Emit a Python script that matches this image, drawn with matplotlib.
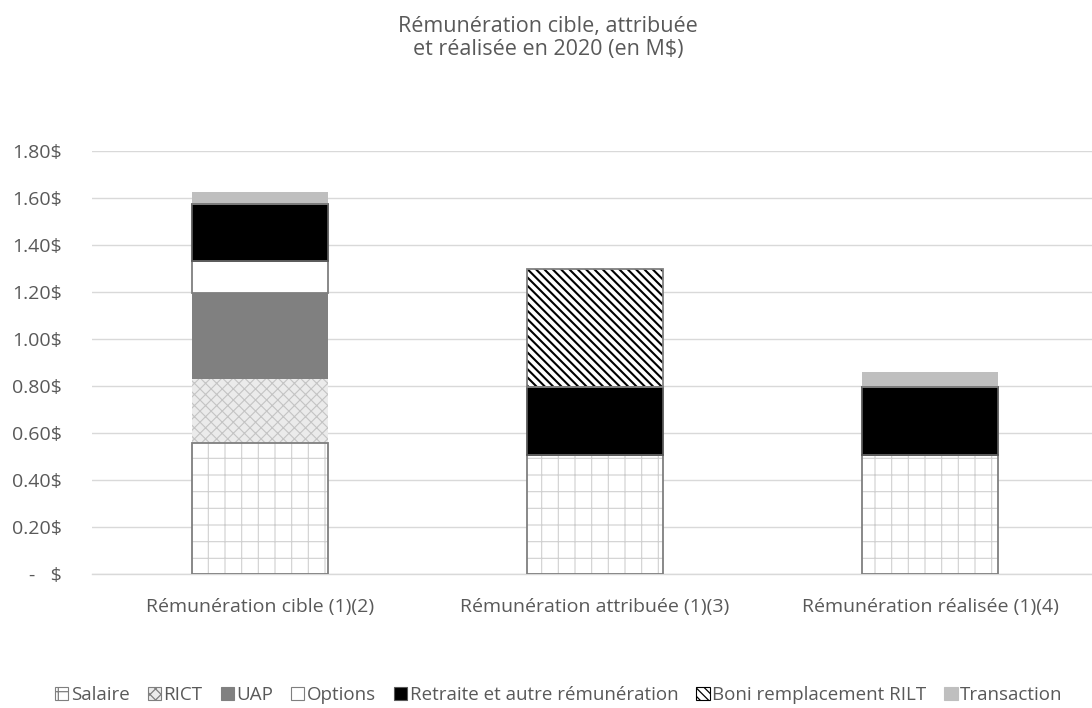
import matplotlib
matplotlib.use("Agg")
import matplotlib.pyplot as plt
from matplotlib.patches import Patch
import numpy as np

plt.rcParams['font.family'] = ['Open Sans', 'DejaVu Sans']
plt.rcParams['hatch.linewidth'] = 0.9

categories = ["Rémunération cible (1)(2)", "Rémunération attribuée (1)(3)", "Rémunération réalisée (1)(4)"]
series_names = ["Salaire", "RICT", "UAP", "Options", "Retraite et autre rémunération",
                "Boni remplacement RILT", "Transaction"]
salaire = [0.557, 0.506, 0.506]
rict = [0.273, 0.0, 0.0]
uap = [0.366, 0.0, 0.0]
options = [0.136, 0.0, 0.0]
retraite = [0.242, 0.290, 0.290]
boni = [0.0, 0.502, 0.0]
transaction = [0.052, 0.0, 0.064]
yticks = [0, 0.2, 0.4, 0.6, 0.8, 1.0, 1.2, 1.4, 1.6, 1.8]
ytick_labels = ["-   $", "0.20$", "0.40$", "0.60$", "0.80$", "1.00$", "1.20$", "1.40$", "1.60$", "1.80$"]
title = "Rémunération cible, attribuée\net réalisée en 2020 (en M$)"

series = [salaire, rict, uap, options, retraite, boni, transaction]
# (facecolor, hatch, hatchcolor, outline color, hatch linewidth)
styles = [
    ("white", "+", "#d0d0d0", "#7f7f7f", 0.8),
    ("#ebebeb", "xxx", "#c4c4c4", None, 0.8),
    ("#808080", None, None, None, None),
    ("white", None, None, "#7f7f7f", None),
    ("black", None, None, "#595959", None),
    ("white", "\\\\\\\\", "black", "#7f7f7f", 1.5),
    ("#bfbfbf", None, None, None, None),
]

text_color = "#595959"
fig = plt.figure(figsize=(10.92, 7.08), dpi=100)
ax = fig.add_axes([92 / 1092, (708 - 574) / 708, 1000 / 1092, (574 - 151) / 708])

x = np.arange(len(categories))
width = 0.406
bottom = np.zeros(len(categories))
handles = []
for name, vals, (fc, hatch, hc, ec, hlw) in zip(series_names, series, styles):
    vals = np.array(vals)
    if hatch:
        bars = ax.bar(x, vals, width, bottom=bottom, facecolor=fc, hatch=hatch,
                      edgecolor=hc, linewidth=0, zorder=2)
        for b in bars:
            f = getattr(b, "set_hatch_linewidth", None)
            if f is not None:
                f(hlw)
    else:
        ax.bar(x, vals, width, bottom=bottom, facecolor=fc, linewidth=0, zorder=2)
    if ec:
        ax.bar(x, vals, width, bottom=bottom, fill=False, edgecolor=ec,
               linewidth=1.3, zorder=3)
    if hatch:
        h = Patch(facecolor=fc, hatch=hatch, edgecolor="#7f7f7f" if hc != "black" else "black",
                  linewidth=0.8)
    else:
        h = Patch(facecolor=fc, edgecolor=ec if ec else fc, linewidth=0.8)
    handles.append(h)
    bottom += vals

ax.set_xlim(-0.5015, 2.4836)
ax.set_ylim(0, 1.8)
ax.set_yticks(yticks)
ax.set_yticklabels(ytick_labels)
ax.set_xticks(x)
ax.set_xticklabels(categories)
ax.tick_params(axis='y', length=0, pad=22, labelsize=14, labelcolor=text_color)
ax.tick_params(axis='x', length=0, pad=17, labelsize=14, labelcolor=text_color)
ax.yaxis.grid(True, color="#d9d9d9", linewidth=1.0, zorder=0)
ax.set_axisbelow(True)
for s in ["top", "right", "left"]:
    ax.spines[s].set_visible(False)
ax.spines["bottom"].set_color("#d9d9d9")
ax.spines["bottom"].set_linewidth(1.0)

fig.text(548 / 1092, 1 - 38 / 708, title, ha="center", va="center",
         fontsize=15.5, color=text_color, linespacing=1.1)

leg = fig.legend(handles, series_names, loc="center", bbox_to_anchor=(559 / 1092, 13 / 708),
                 ncol=7, frameon=False, fontsize=13.5, handlelength=0.7, handleheight=0.7,
                 handletextpad=0.15, columnspacing=0.95, borderaxespad=0)
for t in leg.get_texts():
    t.set_color(text_color)

fig.savefig("out.png", dpi=100)
